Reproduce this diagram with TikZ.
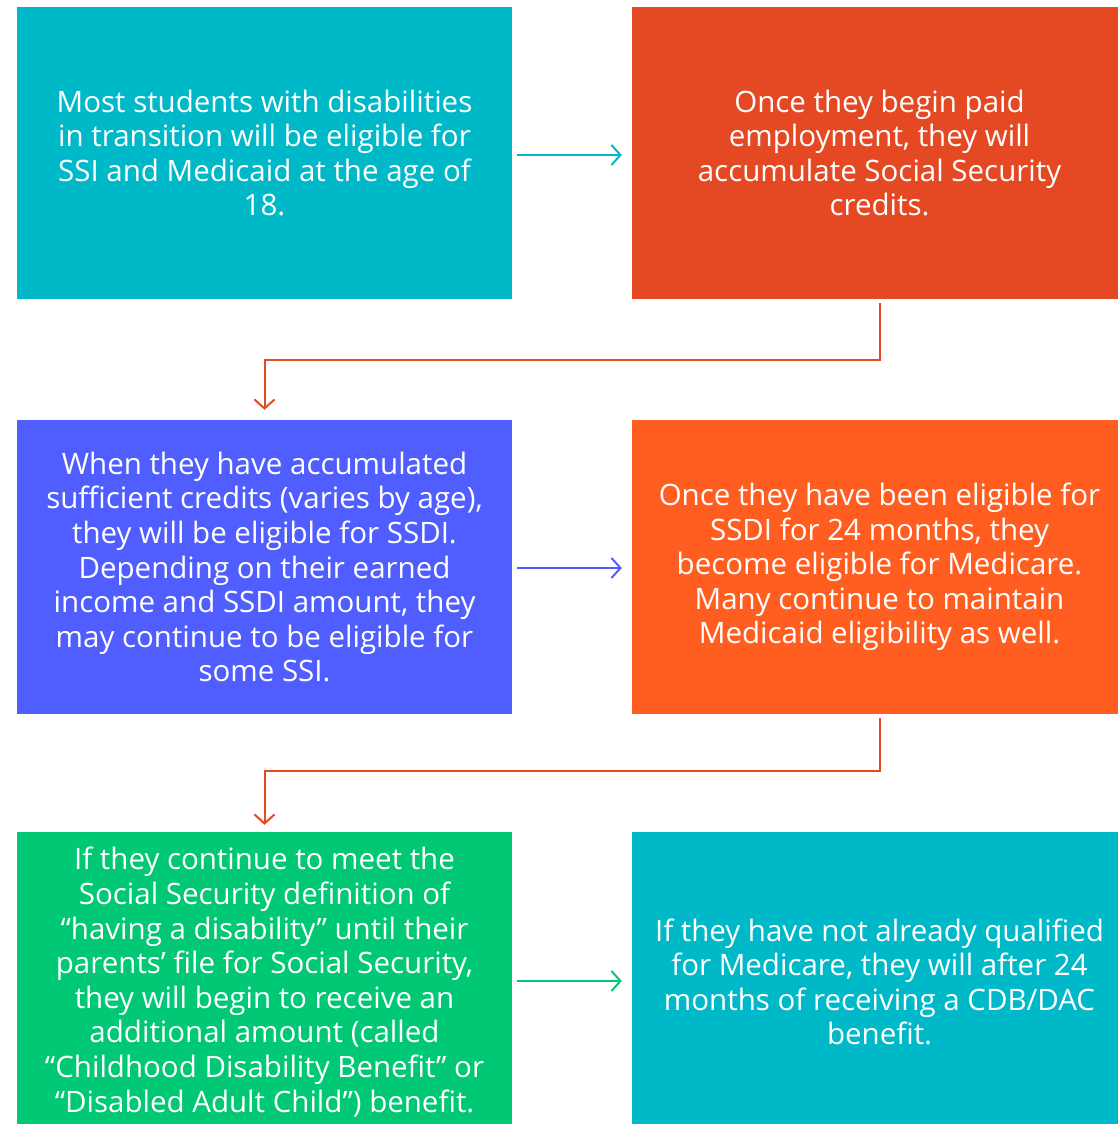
\documentclass[tikz,border=0pt]{standalone}
\usepackage{fontspec}
\setmainfont{Open Sans}
\usetikzlibrary{arrows.meta}
\definecolor{tealbox}{RGB}{0,185,200}
\definecolor{redbox}{RGB}{229,73,35}
\definecolor{bluebox}{RGB}{80,94,255}
\definecolor{orangebox}{RGB}{255,94,32}
\definecolor{greenbox}{RGB}{0,200,117}
\tikzset{
	stepbox/.style={fill=#1, text=white, align=center, inner sep=0pt, minimum width=495,
		font=\fontsize{29.5}{34.6}\selectfont},
	flow/.style={draw=#1, line width=2pt, -{Straight Barb[length=9pt, width=20pt, line width=2pt]}}
}

\begin{document}
\begin{tikzpicture}[x=1pt, y=-1pt]
			%%%%% START %%%%%
			
			\useasboundingbox (0, 0) rectangle (1117, 1124);
			
			\node[stepbox=tealbox, minimum height=292] (ssi) at (264.5, 153)
				{Most students with disabilities\\in transition will be eligible for\\SSI and Medicaid at the age of\\18.};
			\node[stepbox=redbox, minimum height=292] (credits) at (879.5, 153)
				{Once they begin paid\\employment, they will\\accumulate Social Security\\credits.};
			
			\node[stepbox=bluebox, minimum height=294] (ssdi) at (264.5, 567)
				{When they have accumulated\\sufficient credits (varies by age),\\they will be eligible for SSDI.\\Depending on their earned\\income and SSDI amount, they\\may continue to be eligible for\\some SSI.};
			\node[stepbox=orangebox, minimum height=294] (medicare) at (879.5, 567)
				{Once they have been eligible for\\SSDI for 24 months, they\\become eligible for Medicare.\\Many continue to maintain\\Medicaid eligibility as well.};
			
			\node[stepbox=greenbox, minimum height=300] (cdb) at (264.5, 982)
				{If they continue to meet the\\Social Security definition of\\``having a disability'' until their\\parents' file for Social Security,\\they will begin to receive an\\additional amount (called\\``Childhood Disability Benefit'' or\\``Disabled Adult Child'') benefit.};
			\node[stepbox=tealbox, minimum height=300] (dac) at (879.5, 982)
				{If they have not already qualified\\for Medicare, they will after 24\\months of receiving a CDB/DAC\\benefit.};
			
			% connectors
			\draw[flow=tealbox, shorten <=5, shorten >=10] ([yshift=-2]ssi.east) -- ([yshift=-2]credits.west);
			\draw[flow=redbox, shorten <=4, shorten >=10] (credits.south) -- ++(0, 61) -| (ssdi.north);
			\draw[flow=bluebox, shorten <=5, shorten >=10] ([yshift=-1]ssdi.east) -- ([yshift=-1]medicare.west);
			\draw[flow=redbox, shorten <=4, shorten >=7] (medicare.south) -- ++(0, 57) -| (cdb.north);
			\draw[flow=greenbox, shorten <=5, shorten >=10] ([yshift=1]cdb.east) -- ([yshift=1]dac.west);
			
			%%%%% END %%%%%
\end{tikzpicture}
\end{document}
